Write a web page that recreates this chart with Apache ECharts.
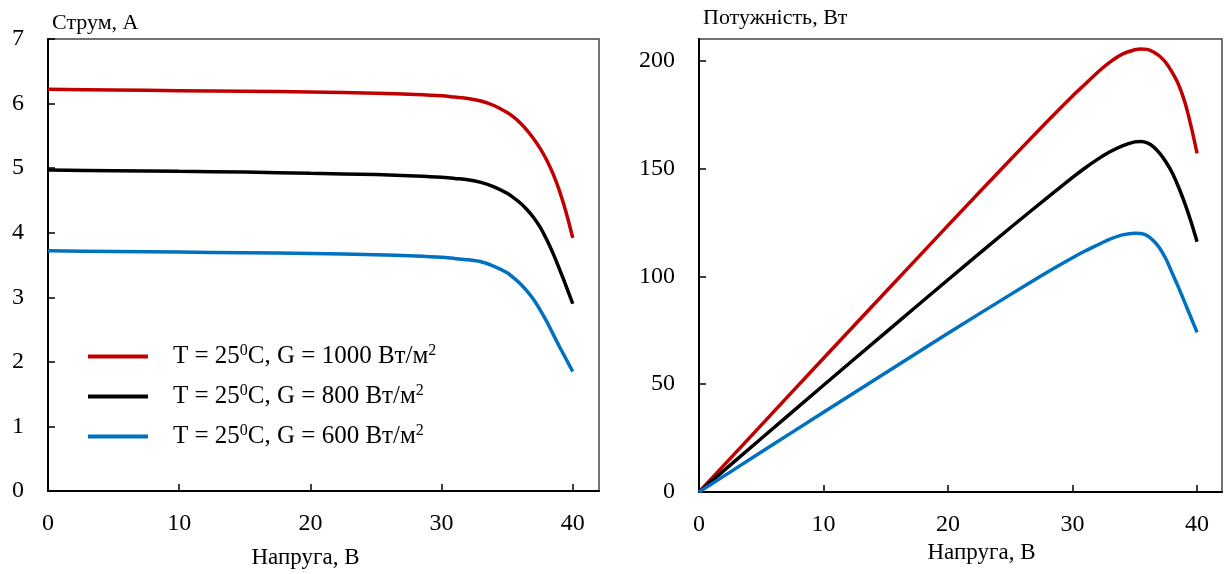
<!DOCTYPE html>
<html>
<head>
<meta charset="utf-8">
<script src="https://cdn.jsdelivr.net/npm/echarts@6/dist/echarts.min.js"></script>
<style>
  html, body { margin: 0; padding: 0; background: #fff; }
  #box { width: 1225px; height: 574px; }
</style>
</head>
<body>
<div id="box"></div>
<script>
// напруга, В
var voltage = [0, 5, 10, 15, 20, 25, 28, 30, 31, 32, 33, 34, 35, 35.5, 36, 36.5, 37, 37.5, 38, 38.5, 39, 39.5, 40];

// струм, А (ліва діаграма)
var current1000 = [6.22, 6.21, 6.20, 6.19, 6.18, 6.16, 6.14, 6.12, 6.10, 6.08, 6.04, 5.97, 5.86, 5.79, 5.70, 5.59, 5.46, 5.31, 5.13, 4.91, 4.64, 4.31, 3.92];
var current800  = [4.97, 4.96, 4.95, 4.94, 4.92, 4.90, 4.88, 4.86, 4.84, 4.82, 4.78, 4.71, 4.61, 4.54, 4.46, 4.36, 4.24, 4.09, 3.90, 3.68, 3.43, 3.17, 2.90];
var current600  = [3.72, 3.71, 3.70, 3.69, 3.68, 3.66, 3.64, 3.62, 3.60, 3.58, 3.55, 3.48, 3.38, 3.30, 3.21, 3.10, 2.97, 2.81, 2.63, 2.43, 2.23, 2.04, 1.85];

// потужність, Вт (права діаграма)
var power1000 = [0, 31, 62, 92.8, 123.6, 154, 172, 183.6, 189, 194.5, 199.3, 203, 205, 205.4, 205.2, 204, 202, 199, 194.5, 189, 181, 170, 157];
var power800  = [0, 24.8, 49.5, 74, 98.4, 122.5, 136.6, 145.8, 150.2, 154.2, 157.7, 160.5, 162.3, 162.5, 161.8, 160, 157, 153, 148, 141.5, 134, 125.5, 116];
var power600  = [0, 18.5, 37, 55.3, 73.6, 91.5, 102, 108.6, 111.7, 114.5, 117.2, 119.2, 120, 119.8, 118.8, 116.5, 113, 108, 101.5, 95, 88, 81, 74];

var seriesNames = ['G1000', 'G800', 'G600'];
var irradiance = ['1000', '800', '600'];
var colors = ['#C00000', '#000000', '#0070C0'];

function pairs(ys) {
  return voltage.map(function (v, i) { return [v, ys[i]]; });
}

var font = 'Liberation Serif';

var myChart = echarts.init(document.getElementById('box'));

function xAxisCfg(idx, pad) {
  return {
    type: 'value', gridIndex: idx, min: 0, max: 42, interval: 10,
    name: 'Напруга, В', nameLocation: 'middle', nameGap: idx === 0 ? 55 : 48,
    nameTextStyle: { fontFamily: font, fontSize: 23, color: '#000', padding: pad },
    axisLine: { lineStyle: { color: '#000', width: 2 } },
    axisTick: { inside: true, length: 7, lineStyle: { color: '#000', width: 1.5 } },
    axisLabel: { showMaxLabel: false, margin: 21, fontFamily: font, fontSize: 24, color: '#000' },
    splitLine: { show: false }
  };
}

function yAxisCfg(idx, name, max, interval, gap, showMax) {
  return {
    type: 'value', gridIndex: idx, min: 0, max: max, interval: interval,
    name: name, nameLocation: 'end', nameGap: gap,
    nameTextStyle: { fontFamily: font, fontSize: 22, color: '#000', align: 'left', padding: [0, 0, 0, 4] },
    axisLine: { lineStyle: { color: '#000', width: 2 } },
    axisTick: { inside: true, length: 7, lineStyle: { color: '#000', width: 1.5 } },
    axisLabel: { showMaxLabel: showMax, margin: 24, fontFamily: font, fontSize: 24, color: '#000' },
    splitLine: { show: false }
  };
}

var series = [];
[current1000, current800, current600].forEach(function (d, i) {
  series.push({
    name: seriesNames[i], type: 'line', xAxisIndex: 0, yAxisIndex: 0,
    smooth: 0.3, showSymbol: false, data: pairs(d),
    lineStyle: { color: colors[i], width: 3.5 }, itemStyle: { color: colors[i] }
  });
});
[power1000, power800, power600].forEach(function (d, i) {
  series.push({
    name: seriesNames[i], type: 'line', xAxisIndex: 1, yAxisIndex: 1,
    smooth: 0.3, showSymbol: false, data: pairs(d),
    lineStyle: { color: colors[i], width: 3.5 }, itemStyle: { color: colors[i] }
  });
});

var option = {
  animation: false,
  textStyle: { fontFamily: font },
  grid: [
    { left: 48, right: 626, top: 39, bottom: 81, show: true, borderColor: '#444', borderWidth: 1.5 },
    { left: 699, right: 3, top: 39, bottom: 82, show: true, borderColor: '#444', borderWidth: 1.5 }
  ],
  legend: {
    orient: 'vertical', left: 88, top: 343, padding: 0,
    icon: 'rect', itemWidth: 60, itemHeight: 4, itemGap: 14,
    data: seriesNames,
    formatter: function (name) {
      var g = irradiance[seriesNames.indexOf(name)];
      return '{gap|}{a|T = 25}{s|0}{a|C, G = ' + g + ' Вт/м}{s|2}';
    },
    textStyle: {
      color: '#000', fontFamily: font, fontSize: 25,
      rich: {
        gap: { width: 20 },
        a: { fontFamily: font, fontSize: 25, lineHeight: 25, color: '#000' },
        s: { fontFamily: font, fontSize: 16, verticalAlign: 'top', padding: [0, 0, 11, 0], color: '#000' }
      }
    }
  },
  xAxis: [xAxisCfg(0, [0, 36, 0, 0]), xAxisCfg(1, [0, 0, 0, 42])],
  yAxis: [
    yAxisCfg(0, 'Струм, А', 7, 1, 5, true),
    yAxisCfg(1, 'Потужність, Вт', 210, 50, 10, false)
  ],
  series: series
};

myChart.setOption(option);
</script>
</body>
</html>
